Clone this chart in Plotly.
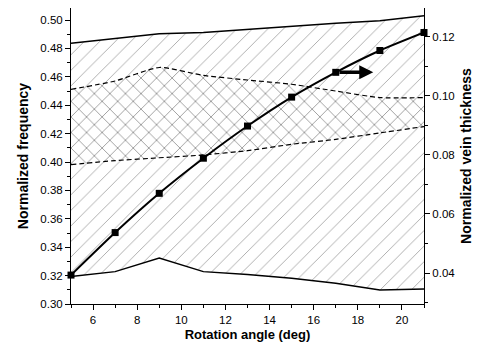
import plotly.graph_objects as go

angle = [5, 7, 9, 11, 13, 15, 17, 19, 21]
# Normalized frequency band boundaries (left axis)
band_top = [0.4837, 0.4870, 0.4903, 0.4912, 0.4935, 0.4957, 0.4978, 0.4995, 0.5030]
band_upper_dash = [0.4512, 0.4571, 0.4666, 0.4610, 0.4578, 0.4548, 0.4500, 0.4454, 0.4454]
band_lower_dash = [0.3982, 0.4010, 0.4030, 0.4050, 0.4080, 0.4125, 0.4160, 0.4205, 0.4250]
band_bottom = [0.3193, 0.3228, 0.3323, 0.3228, 0.3207, 0.3182, 0.3146, 0.3098, 0.3105]
# Normalized vein thickness (right axis)
thickness = [0.0393, 0.0537, 0.0670, 0.0789, 0.0898, 0.0996, 0.1080, 0.1154, 0.1215]

pat_single = dict(shape="/", size=11, solidity=0.07, fgcolor="rgb(50,50,50)", bgcolor="rgba(0,0,0,0)")
pat_cross = dict(shape="x", size=11, solidity=0.15, fgcolor="rgb(40,40,40)", bgcolor="rgba(0,0,0,0)")

fig = go.Figure()
fig.add_trace(go.Scatter(x=angle, y=band_bottom, mode="lines",
                         line=dict(color="black", width=1.5), showlegend=False))
fig.add_trace(go.Scatter(x=angle, y=band_lower_dash, mode="lines",
                         line=dict(color="black", width=1.2, dash="5px,3px", shape="spline", smoothing=0.6),
                         fill="tonexty", fillcolor="rgba(0,0,0,0)", fillpattern=pat_single,
                         showlegend=False))
fig.add_trace(go.Scatter(x=angle, y=band_upper_dash, mode="lines",
                         line=dict(color="black", width=1.2, dash="5px,3px", shape="spline", smoothing=0.6),
                         fill="tonexty", fillcolor="rgba(0,0,0,0)", fillpattern=pat_cross,
                         showlegend=False))
fig.add_trace(go.Scatter(x=angle, y=band_top, mode="lines",
                         line=dict(color="black", width=1.5),
                         fill="tonexty", fillcolor="rgba(0,0,0,0)", fillpattern=pat_single,
                         showlegend=False))
fig.add_trace(go.Scatter(x=angle, y=thickness, mode="lines+markers", yaxis="y2",
                         line=dict(color="black", width=2, shape="spline", smoothing=0.5),
                         marker=dict(symbol="square", size=7, color="black"),
                         showlegend=False, cliponaxis=False))

fig.add_annotation(x=18.7, y=thickness[6], ax=17.1, ay=thickness[6], xref="x", yref="y2",
                   axref="x", ayref="y2", showarrow=True, arrowhead=2, arrowsize=0.8,
                   arrowwidth=3.5, arrowcolor="black", text="")

tickfont = dict(family="Liberation Sans, Arial, sans-serif", size=11.5, color="black")
xtitlefont = dict(family="Liberation Sans, Arial, sans-serif", size=13, color="black", weight="bold")
ytitlefont = dict(family="Liberation Sans, Arial, sans-serif", size=14, color="black", weight="bold")

fig.update_layout(
    width=479, height=352,
    margin=dict(l=71, r=42, t=8, b=48),
    plot_bgcolor="white", paper_bgcolor="white",
    xaxis=dict(range=[5, 21], dtick=2, tick0=0, showgrid=False, zeroline=False,
               showline=True, linecolor="black", linewidth=1, ticks="outside", ticklen=5,
               tickcolor="black", tickfont=tickfont,
               minor=dict(dtick=1, ticks="outside", ticklen=3, tickcolor="black"),
               title=dict(text="Rotation angle (deg)", font=xtitlefont, standoff=5)),
    yaxis=dict(range=[0.30, 0.5085], dtick=0.02, tick0=0, tickformat=".2f", showgrid=False,
               zeroline=False, showline=True, linecolor="black", linewidth=1, ticks="outside",
               ticklen=5, tickcolor="black", tickfont=tickfont,
               minor=dict(dtick=0.01, ticks="outside", ticklen=3, tickcolor="black"),
               title=dict(text="Normalized frequency", font=ytitlefont, standoff=8)),
    yaxis2=dict(range=[0.0295, 0.1298], dtick=0.02, tick0=0, tickformat=".2f", overlaying="y",
                side="right", showgrid=False, zeroline=False, showline=True, linecolor="black",
                linewidth=1, ticks="outside", ticklen=5, tickcolor="black", tickfont=tickfont,
                minor=dict(dtick=0.01, ticks="outside", ticklen=3, tickcolor="black"),
                title=dict(text="Normalized vein thickness", font=ytitlefont, standoff=6)),
)

fig.write_html("out.html")
